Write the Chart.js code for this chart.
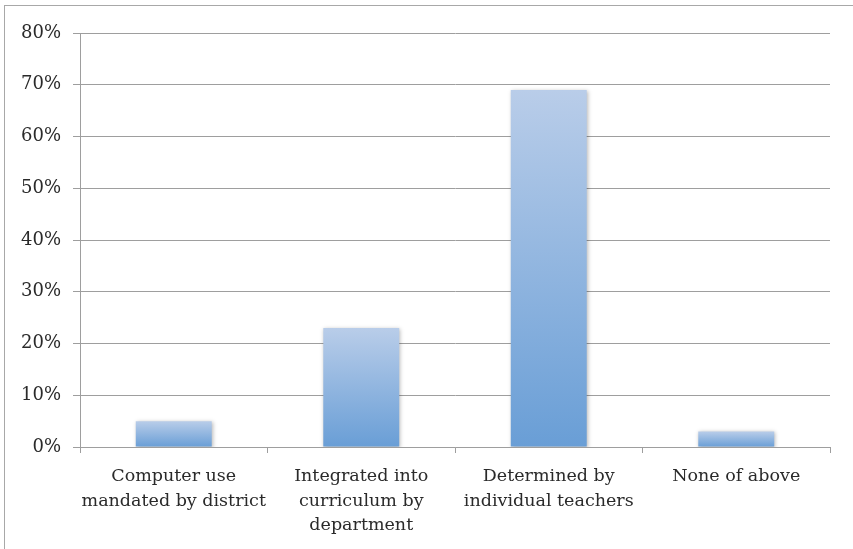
<!DOCTYPE html>
<html>
<head>
<meta charset="utf-8">
<script src="https://cdn.jsdelivr.net/npm/chart.js@4/dist/chart.umd.min.js"></script>
<style>
  html, body { margin: 0; padding: 0; background: #fff; overflow: hidden; }
  #wrap { position: relative; width: 853px; height: 549px; }
  #frame { position: absolute; left: 4px; top: 5px; width: 900px; height: 600px; border: 1px solid #a8a8a8; box-sizing: border-box; }
  canvas { position: absolute; left: 0; top: 0; }
</style>
</head>
<body>
<div id="wrap">
  <div id="frame"></div>
  <canvas id="chart" width="853" height="549"></canvas>
</div>
<script>
// chart data
const categories = [
  ['Computer use', 'mandated by district'],
  ['Integrated into', 'curriculum by', 'department'],
  ['Determined by', 'individual teachers'],
  'None of above'
];
const shares = [5, 23, 69, 3];
const yTicks = [0, 10, 20, 30, 40, 50, 60, 70, 80];

const fontFamily = '"DejaVu Serif", "Liberation Serif", serif';

// each bar gets its own light-to-dark gradient
function barGradient(context) {
  const chart = context.chart;
  const y = chart.scales.y;
  if (!y || context.raw == null) return '#8fb4e0';
  const top = y.getPixelForValue(context.raw);
  const bottom = y.getPixelForValue(0);
  if (!isFinite(top) || !isFinite(bottom) || top === bottom) return '#8fb4e0';
  const g = chart.ctx.createLinearGradient(0, top, 0, bottom);
  g.addColorStop(0, '#b9cde9');
  g.addColorStop(1, '#699ed6');
  return g;
}

const barShadow = {
  id: 'barShadow',
  beforeDatasetsDraw(chart) {
    const c = chart.ctx;
    c.save();
    c.shadowColor = 'rgba(0,0,0,0.28)';
    c.shadowBlur = 4;
    c.shadowOffsetX = 1;
    c.shadowOffsetY = 1;
  },
  afterDatasetsDraw(chart) {
    chart.ctx.restore();
  }
};

const ctx = document.getElementById('chart').getContext('2d');
const chart = new Chart(ctx, {
  type: 'bar',
  data: {
    labels: categories,
    datasets: [{
      data: shares,
      backgroundColor: barGradient,
      borderWidth: 0,
      barPercentage: 0.405,
      categoryPercentage: 1
    }]
  },
  options: {
    responsive: false,
    animation: false,
    layout: { padding: { left: 0, right: 23, top: 33, bottom: 0 } },
    plugins: {
      legend: { display: false },
      tooltip: { enabled: false }
    },
    scales: {
      y: {
        min: 0,
        max: 80,
        afterBuildTicks: (axis) => { axis.ticks = yTicks.map(v => ({ value: v })); },
        afterFit: (axis) => { axis.width = 80; },
        ticks: {
          callback: (v) => v + '%',
          color: '#2a2a2a',
          padding: 12,
          font: { family: fontFamily, size: 18 }
        },
        grid: { color: '#9e9e9e', lineWidth: 1, tickLength: 7 },
        border: { color: '#9e9e9e', width: 1 }
      },
      x: {
        afterFit: (axis) => { axis.height = 102; },
        ticks: {
          color: '#2a2a2a',
          padding: 11,
          autoSkip: false,
          maxRotation: 0,
          minRotation: 0,
          font: { family: fontFamily, size: 17.5, lineHeight: 1.41 }
        },
        grid: { drawOnChartArea: false, color: '#9e9e9e', tickLength: 6 },
        border: { color: '#9e9e9e', width: 1 }
      }
    }
  },
  plugins: [barShadow]
});
</script>
</body>
</html>
